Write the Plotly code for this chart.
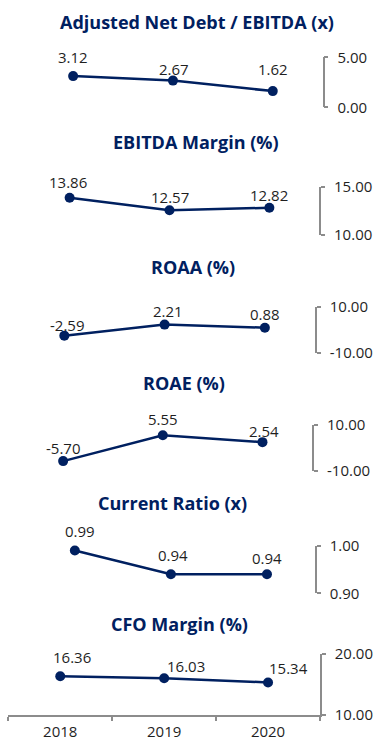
import plotly.graph_objects as go

# ---- data ----
years = ["2018", "2019", "2020"]
titles = [
    "Adjusted Net Debt / EBITDA (x)",
    "EBITDA Margin (%)",
    "ROAA (%)",
    "ROAE (%)",
    "Current Ratio (x)",
    "CFO Margin (%)",
]
net_debt_to_ebitda = [3.12, 2.67, 1.62]
ebitda_margin = [13.86, 12.57, 12.82]
roaa = [-2.59, 2.21, 0.88]
roae = [-5.70, 5.55, 2.54]
current_ratio = [0.99, 0.94, 0.94]
cfo_margin = [16.36, 16.03, 15.34]
series = [net_debt_to_ebitda, ebitda_margin, roaa, roae, current_ratio, cfo_margin]

# right-hand axis bounds for each panel
axis_lo = [0.0, 10.0, -10.0, -10.0, 0.90, 10.0]
axis_hi = [5.0, 15.0, 10.0, 10.0, 1.00, 20.0]

# ---- layout geometry (pixels) ----
W, H = 375, 741
# plot boxes: (left, right, top, bottom)
boxes = [
    (23.2, 322.7, 57.3, 107.3),
    (19.7, 319.3, 186.7, 235.0),
    (14.2, 315.0, 306.7, 352.7),
    (13.3, 312.3, 425.0, 471.0),
    (26.8, 315.0, 545.7, 593.3),
    (8.3, 320.0, 654.0, 715.0),
]
# title centres (x, y)
title_pos = [(196.5, 21.7), (196.0, 141.7), (192.5, 267.3),
             (184.0, 383.3), (172.0, 503.3), (179.7, 624.0)]
# value label offsets from each marker (dx, dy), pixels
label_dx = [
    [0, 1, 0], [-2, 0, 0], [3, 3, 0],
    [0, 0, 2], [5, 2, 0], [12, 22, 20],
]
label_dy = [
    [19, 12, 22], [16, 13, 13], [11, 14, 14],
    [13, 16, 11], [19, 19, 16], [19, 12, 14],
]

NAVY = "#002060"
AXIS_GREY = "#8c8c8c"
TEXT = "#1f1f1f"
FONT = "Open Sans"


def px_x(v):
    return v / W


def px_y(v):
    return 1 - v / H


fig = go.Figure()
annotations = []
layout = {}

for i, (vals, lo, hi, box) in enumerate(zip(series, axis_lo, axis_hi, boxes)):
    n = "" if i == 0 else str(i + 1)
    xa, ya = "x" + n, "y" + n
    left, right, top, bottom = box
    last = i == len(series) - 1

    fig.add_trace(go.Scatter(
        x=years, y=vals, xaxis=xa, yaxis=ya,
        mode="lines+markers",
        line=dict(color=NAVY, width=2.5),
        marker=dict(color=NAVY, size=10),
        cliponaxis=False, hoverinfo="skip", showlegend=False,
    ))

    layout["xaxis" + n] = dict(
        domain=[px_x(left), px_x(right)],
        anchor=ya, type="category", categoryorder="array",
        categoryarray=years, range=[-0.5, 2.5],
        automargin=False,
        showgrid=False, zeroline=False, fixedrange=True,
        visible=last,
        showline=last, linecolor=AXIS_GREY, linewidth=1.5,
        ticks="outside" if last else "", tickson="boundaries",
        ticklen=4, tickcolor=AXIS_GREY, tickwidth=1.5,
        tickfont=dict(family=FONT, size=15, color=TEXT),
        ticklabelstandoff=2,
    )
    layout["yaxis" + n] = dict(
        domain=[px_y(bottom), px_y(top)],
        anchor=xa, side="right", range=[lo, hi],
        tickvals=[lo, hi], ticktext=[f"{lo:.2f}", f"{hi:.2f}"],
        automargin=False,
        showgrid=False, zeroline=False, fixedrange=True,
        showline=True, linecolor=AXIS_GREY, linewidth=1.5,
        ticks="outside", ticklen=4, tickcolor=AXIS_GREY, tickwidth=1.5,
        tickfont=dict(family=FONT, size=15, color=TEXT),
        ticklabelstandoff=6,
    )

    for j, v in enumerate(vals):
        # category axes accept the category index as a position
        annotations.append(dict(
            x=j, y=v, xref=xa, yref=ya,
            text=f"{v:.2f}", showarrow=False,
            xanchor="center", yanchor="middle",
            xshift=label_dx[i][j], yshift=label_dy[i][j],
            font=dict(family=FONT, size=15, color=TEXT),
        ))

    tx, ty = title_pos[i]
    annotations.append(dict(
        x=px_x(tx), y=px_y(ty), xref="paper", yref="paper",
        text=f"<b>{titles[i]}</b>", showarrow=False,
        xanchor="center", yanchor="middle",
        font=dict(family=FONT, size=18, color=NAVY),
    ))

fig.update_layout(
    width=W, height=H,
    margin=dict(l=0, r=0, t=0, b=0, autoexpand=False),
    paper_bgcolor="white", plot_bgcolor="white",
    annotations=annotations,
    **layout,
)

fig.write_html("out.html", config={"displayModeBar": False})
